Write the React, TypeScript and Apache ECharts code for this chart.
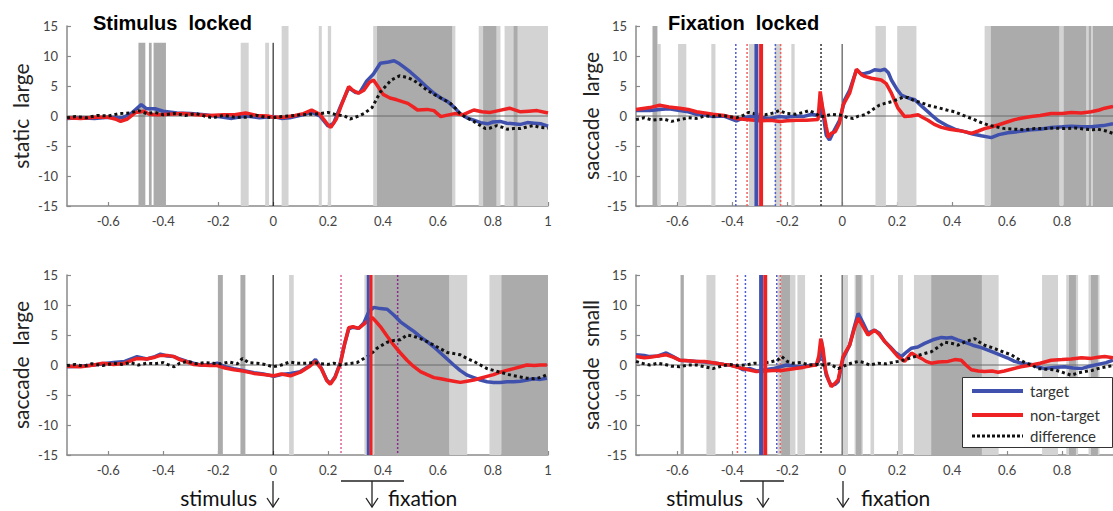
import React, { useEffect, useRef } from 'react';
import * as echarts from 'echarts';

// ---------- tick labels ----------
const xTicksLeft = [-0.6, -0.4, -0.2, 0, 0.2, 0.4, 0.6, 0.8, 1];
const xTicksRight = [-0.6, -0.4, -0.2, 0, 0.2, 0.4, 0.6, 0.8];

// ---------- names ----------
const panelTitles = ['Stimulus  locked', 'Fixation  locked'];
const axisNames = ['static  large', 'saccade  large', 'saccade  large', 'saccade  small'];
const legendNames = ['target', 'non-target', 'difference'];

// ---------- top-left: static large, stimulus locked ----------
const tlBlue = [[-0.75,-0.4],[-0.7,-0.3],[-0.65,-0.4],[-0.6,-0.2],[-0.55,-0.3],[-0.52,0.3],[-0.48,1.9],[-0.46,1.2],[-0.43,1.2],[-0.4,0.8],[-0.35,0.5],[-0.3,0.4],[-0.25,0.2],[-0.2,-0.1],[-0.15,-0.4],[-0.1,0],[-0.05,-0.3],[0,-0.1],[0.03,-0.4],[0.06,-0.3],[0.1,0.1],[0.14,0.6],[0.17,0],[0.2,-1.7],[0.22,-1.2],[0.245,1.6],[0.275,4.7],[0.3,3.9],[0.315,3.9],[0.34,5.8],[0.365,7.0],[0.39,8.8],[0.42,9.0],[0.44,9.2],[0.46,8.7],[0.475,8.2],[0.5,7.3],[0.525,6.3],[0.555,5.0],[0.585,3.8],[0.61,3.0],[0.635,2.4],[0.66,1.4],[0.68,0.4],[0.705,-0.3],[0.73,-0.7],[0.755,-1.1],[0.78,-1.3],[0.8,-1.0],[0.826,-0.9],[0.85,-1.2],[0.875,-1.3],[0.9,-1.4],[0.925,-1.1],[0.95,-1.2],[0.975,-1.3],[1.0,-1.7]];
const tlRed = [[-0.75,-0.3],[-0.7,-0.4],[-0.65,-0.2],[-0.6,-0.2],[-0.575,-0.5],[-0.555,-0.9],[-0.53,-0.5],[-0.5,0.6],[-0.47,0.8],[-0.45,0.3],[-0.42,0.2],[-0.38,0.3],[-0.33,0.4],[-0.28,0.2],[-0.23,0.1],[-0.18,0.2],[-0.14,0.2],[-0.1,0.5],[-0.06,0.1],[-0.02,0],[0,-0.2],[0.04,-0.2],[0.08,0.1],[0.11,0.4],[0.14,1.0],[0.17,0.3],[0.2,-1.5],[0.21,-1.9],[0.23,-0.5],[0.25,2.0],[0.275,4.9],[0.29,4.3],[0.31,3.8],[0.33,4.3],[0.35,5.6],[0.365,6.0],[0.38,5.0],[0.4,3.6],[0.425,3.0],[0.45,2.7],[0.49,2.1],[0.51,1.5],[0.525,1.0],[0.56,1.1],[0.585,0.9],[0.61,-0.1],[0.63,0.1],[0.66,0.4],[0.69,0.2],[0.71,0.6],[0.73,1.0],[0.76,0.7],[0.79,0.6],[0.82,0.9],[0.86,1.3],[0.9,0.7],[0.93,0.8],[0.96,0.9],[1.0,0.5]];
const tlDiff = [[-0.75,-0.3],[-0.72,-0.1],[-0.68,-0.3],[-0.64,0.1],[-0.6,0.0],[-0.56,0.4],[-0.52,0.5],[-0.49,0.9],[-0.46,0.4],[-0.43,0.6],[-0.4,0.2],[-0.36,0.4],[-0.32,0.1],[-0.28,0.4],[-0.25,0.0],[-0.22,-0.3],[-0.18,0.1],[-0.14,-0.2],[-0.1,-0.2],[-0.06,0.1],[-0.03,-0.2],[0,-0.3],[0.03,-0.1],[0.06,0.0],[0.1,0.2],[0.14,0.3],[0.17,0.4],[0.2,0.6],[0.23,0.2],[0.26,0.0],[0.28,-0.5],[0.3,-0.2],[0.33,0.4],[0.36,1.4],[0.39,4.0],[0.41,5.0],[0.43,6.0],[0.46,6.7],[0.49,6.4],[0.51,6.0],[0.535,5.2],[0.56,4.3],[0.585,3.6],[0.61,3.0],[0.645,2.1],[0.665,1.2],[0.68,0.4],[0.7,-0.2],[0.73,-0.9],[0.755,-1.6],[0.772,-2.1],[0.79,-2.0],[0.814,-1.6],[0.835,-1.9],[0.851,-2.2],[0.875,-2.1],[0.9,-2.1],[0.925,-1.8],[0.948,-1.6],[0.97,-1.9],[1.0,-2.0]];
const tlLightBands = [[0.031,0.056,15],[-0.118,-0.089,12.2],[-0.029,-0.015,12.2],[0.166,0.177,15],[0.199,0.211,15],[0.364,0.663,15],[0.748,0.827,15],[0.842,1.0,15]];
const tlDarkBands = [[-0.49,-0.465,12.2],[-0.452,-0.442,12.2],[-0.435,-0.39,12.2],[0.378,0.651,15],[0.764,0.812,15],[0.875,0.889,15]];
const tlAxisZero = [0];

// ---------- top-right: saccade large, fixation locked ----------
const trBlue = [[-0.75,0.9],[-0.7,0.9],[-0.664,1.1],[-0.63,1.2],[-0.591,0.9],[-0.56,0.7],[-0.53,0.3],[-0.5,0.2],[-0.47,-0.1],[-0.43,0.0],[-0.385,-0.8],[-0.36,-0.3],[-0.336,-0.1],[-0.3,-0.2],[-0.264,-0.4],[-0.23,-0.1],[-0.203,-0.2],[-0.17,0.0],[-0.143,-0.1],[-0.11,0.3],[-0.082,0.0],[-0.076,2.5],[-0.07,0.5],[-0.058,-3.2],[-0.046,-4.0],[-0.028,-2.3],[-0.009,-0.7],[0.009,2.7],[0.027,4.3],[0.052,7.7],[0.07,7.0],[0.082,7.1],[0.1,7.3],[0.118,7.7],[0.14,7.6],[0.155,7.8],[0.168,7.2],[0.179,6.0],[0.2,4.4],[0.215,3.5],[0.24,3.0],[0.264,2.7],[0.29,1.6],[0.324,0.2],[0.35,-0.8],[0.385,-1.7],[0.415,-2.3],[0.445,-2.6],[0.475,-3.0],[0.506,-3.3],[0.542,-3.6],[0.57,-3.1],[0.603,-2.8],[0.64,-2.6],[0.688,-2.3],[0.72,-2.2],[0.76,-1.9],[0.8,-1.8],[0.833,-1.7],[0.87,-1.8],[0.906,-1.8],[0.95,-1.6],[0.985,-1.3]];
const trRed = [[-0.75,1.1],[-0.7,1.4],[-0.664,1.8],[-0.63,1.5],[-0.591,1.3],[-0.56,1.1],[-0.53,0.7],[-0.5,0.5],[-0.47,0.3],[-0.43,0.1],[-0.385,-0.4],[-0.35,-0.6],[-0.3,-0.8],[-0.26,-0.7],[-0.227,-0.9],[-0.2,-0.8],[-0.166,-0.7],[-0.13,-0.7],[-0.088,-0.6],[-0.08,4.1],[-0.072,1.6],[-0.058,-1.8],[-0.05,-3.6],[-0.04,-2.9],[-0.025,-2.6],[-0.01,-1.2],[0.003,1.8],[0.027,3.8],[0.052,7.8],[0.07,6.9],[0.082,6.6],[0.106,6.3],[0.142,6.0],[0.16,5.4],[0.179,3.8],[0.203,1.3],[0.227,-0.1],[0.25,0.0],[0.276,0.2],[0.295,-0.3],[0.312,-0.7],[0.335,-1.4],[0.361,-1.9],[0.39,-2.2],[0.421,-2.4],[0.445,-2.6],[0.47,-2.9],[0.495,-2.5],[0.518,-2.1],[0.545,-1.8],[0.567,-1.5],[0.6,-1.0],[0.627,-0.6],[0.66,-0.3],[0.688,-0.1],[0.72,0.1],[0.76,0.4],[0.8,0.4],[0.833,0.6],[0.87,0.5],[0.906,0.7],[0.935,1.0],[0.955,1.3],[0.985,1.6]];
const trDiff = [[-0.75,-0.6],[-0.72,-0.3],[-0.69,-0.7],[-0.65,-0.5],[-0.62,-0.9],[-0.59,-0.6],[-0.56,-0.3],[-0.53,-0.4],[-0.5,0.0],[-0.47,-0.1],[-0.44,0.1],[-0.41,-0.1],[-0.385,-0.3],[-0.36,0.1],[-0.34,0.6],[-0.31,0.3],[-0.28,0.2],[-0.25,0.5],[-0.23,0.9],[-0.2,0.4],[-0.17,0.3],[-0.14,0.6],[-0.12,0.9],[-0.1,0.5],[-0.08,-0.1],[-0.06,0.0],[-0.04,0.3],[-0.02,0.2],[0,0.1],[0.02,-0.3],[0.04,-0.4],[0.06,0.0],[0.082,0.2],[0.1,0.7],[0.118,1.3],[0.135,1.8],[0.155,2.1],[0.18,2.4],[0.203,2.8],[0.22,3.1],[0.239,3.1],[0.26,2.6],[0.288,2.2],[0.318,1.7],[0.348,1.4],[0.38,1.0],[0.409,0.7],[0.44,0.1],[0.47,-0.4],[0.5,-1.0],[0.53,-1.5],[0.56,-1.8],[0.591,-2.1],[0.63,-2.2],[0.664,-2.3],[0.7,-2.1],[0.736,-2.1],[0.77,-2.0],[0.809,-2.1],[0.85,-2.0],[0.882,-2.2],[0.91,-2.3],[0.93,-2.2],[0.96,-2.5],[0.985,-2.9]];
const trLightBands = [[-0.672,-0.66,12],[-0.597,-0.567,12],[-0.476,-0.461,12],[-0.339,-0.318,12],[-0.245,-0.222,12],[-0.185,-0.173,12],[0.121,0.159,15],[0.2,0.27,15],[0.518,0.54,15],[0.79,0.805,15],[0.888,0.896,15],[0.905,0.912,15]];
const trDarkBands = [[-0.69,-0.672,15],[0.54,0.79,15],[0.805,0.888,15],[0.896,0.905,15],[0.912,1.0,15]];
const trAxisZero = [0];
const trBlueDotted = [-0.387, -0.243];
const trRedDotted = [-0.346, -0.224];
const trDiffDotted = [-0.077];
const trBlueSolid = [-0.312];
const trRedSolid = [-0.295];

// ---------- bottom-left: saccade large, stimulus locked ----------
const blBlue = [[-0.75,-0.3],[-0.7,-0.2],[-0.652,0.0],[-0.62,0.2],[-0.58,0.4],[-0.54,0.6],[-0.495,1.4],[-0.46,1.0],[-0.43,1.4],[-0.41,1.8],[-0.385,1.5],[-0.361,1.4],[-0.34,1.0],[-0.313,0.6],[-0.29,0.3],[-0.264,0.0],[-0.23,0.0],[-0.204,0.3],[-0.175,-0.3],[-0.143,-0.6],[-0.11,-0.9],[-0.07,-1.3],[-0.035,-1.5],[0.003,-1.9],[0.03,-1.6],[0.063,-1.4],[0.099,-1.1],[0.13,-0.2],[0.154,0.9],[0.175,-0.5],[0.195,-2.5],[0.208,-3.1],[0.225,-2.0],[0.245,0.5],[0.26,3.5],[0.275,6.0],[0.29,6.3],[0.311,6.1],[0.33,7.0],[0.348,8.9],[0.366,9.6],[0.39,9.4],[0.415,9.3],[0.44,8.3],[0.463,7.2],[0.49,6.3],[0.512,5.6],[0.536,4.7],[0.56,3.9],[0.585,3.0],[0.609,2.0],[0.633,1.0],[0.657,0.0],[0.68,-0.9],[0.706,-1.7],[0.73,-2.1],[0.754,-2.5],[0.778,-2.8],[0.802,-2.9],[0.826,-2.9],[0.851,-2.8],[0.875,-2.8],[0.899,-2.7],[0.925,-2.5],[0.948,-2.3],[0.972,-2.4],[0.996,-2.2]];
const blRed = [[-0.75,-0.2],[-0.7,-0.3],[-0.652,0.0],[-0.62,0.3],[-0.58,0.1],[-0.54,0.3],[-0.495,1.1],[-0.46,1.0],[-0.43,1.3],[-0.41,1.6],[-0.385,1.6],[-0.361,1.4],[-0.34,0.9],[-0.313,0.5],[-0.29,0.1],[-0.264,0.0],[-0.23,-0.1],[-0.204,-0.1],[-0.175,-0.5],[-0.143,-0.8],[-0.11,-1.0],[-0.07,-1.4],[-0.035,-1.6],[0.003,-1.8],[0.03,-1.5],[0.063,-1.8],[0.099,-1.2],[0.13,-0.3],[0.154,0.6],[0.175,-0.6],[0.195,-2.6],[0.208,-3.2],[0.225,-2.1],[0.245,0.3],[0.26,3.5],[0.275,6.2],[0.29,6.4],[0.311,6.1],[0.33,6.8],[0.348,7.5],[0.36,7.9],[0.375,7.2],[0.39,6.4],[0.415,4.8],[0.439,3.3],[0.463,2.0],[0.487,0.8],[0.51,-0.2],[0.536,-1.1],[0.56,-1.6],[0.585,-2.1],[0.61,-2.3],[0.633,-2.5],[0.657,-2.7],[0.681,-2.9],[0.705,-2.7],[0.73,-2.5],[0.754,-2.2],[0.778,-1.9],[0.802,-1.6],[0.826,-1.2],[0.85,-0.9],[0.875,-0.6],[0.9,-0.3],[0.923,0.0],[0.95,-0.1],[0.972,0.0],[0.996,0.0]];
const blDiff = [[-0.75,-0.1],[-0.72,0.1],[-0.69,-0.2],[-0.66,0.2],[-0.62,-0.1],[-0.58,0.3],[-0.55,0.1],[-0.52,0.4],[-0.49,0.0],[-0.46,0.3],[-0.43,0.2],[-0.4,0.4],[-0.385,0.1],[-0.36,-0.3],[-0.34,0.3],[-0.31,0.6],[-0.28,0.2],[-0.25,0.4],[-0.22,0.3],[-0.19,0.2],[-0.16,0.5],[-0.13,0.2],[-0.112,1.1],[-0.09,0.4],[-0.06,0.3],[-0.03,0.1],[0,-0.3],[0.03,0.0],[0.06,0.5],[0.09,0.3],[0.12,0.3],[0.15,0.4],[0.172,0.2],[0.2,0.1],[0.22,0.3],[0.245,0.0],[0.27,0.2],[0.305,0.4],[0.342,1.4],[0.36,2.0],[0.378,2.8],[0.4,3.4],[0.415,3.8],[0.44,4.1],[0.463,4.2],[0.487,5.0],[0.51,4.8],[0.536,4.4],[0.56,3.9],[0.585,3.3],[0.609,2.7],[0.633,2.1],[0.657,1.9],[0.681,1.7],[0.705,1.1],[0.73,0.6],[0.754,0.0],[0.778,-0.6],[0.802,-0.9],[0.826,-1.2],[0.85,-1.5],[0.875,-1.8],[0.9,-2.0],[0.923,-2.2],[0.948,-2.3],[0.972,-2.1],[0.996,-1.6]];
const blLightBands = [[0.058,0.075,15],[0.332,0.368,15],[0.641,0.706,15],[0.787,0.83,15]];
const blDarkBands = [[-0.201,-0.183,15],[-0.119,-0.101,15],[0.368,0.641,15],[0.83,1.0,15]];
const blAxisZero = [0];
const blPinkDotted = [0.247];
const blPurpleDotted = [0.453];
const blBlueSolid = [0.346];
const blRedSolid = [0.356];

// ---------- bottom-right: saccade small, fixation locked ----------
const brBlue = [[-0.75,1.7],[-0.72,1.6],[-0.7,1.4],[-0.67,1.5],[-0.64,2.0],[-0.615,1.4],[-0.591,0.8],[-0.56,0.7],[-0.53,0.6],[-0.5,0.5],[-0.458,0.3],[-0.43,0.1],[-0.409,0.0],[-0.38,-0.3],[-0.361,-0.8],[-0.335,-0.6],[-0.312,-1.0],[-0.28,-0.8],[-0.252,-0.6],[-0.225,-0.3],[-0.203,0.0],[-0.17,-0.2],[-0.143,-0.3],[-0.11,0.0],[-0.094,0.0],[-0.082,1.0],[-0.076,4.2],[-0.068,1.0],[-0.058,-1.7],[-0.04,-3.4],[-0.025,-3.2],[-0.015,-2.8],[0.003,1.1],[0.027,3.3],[0.045,6.5],[0.058,8.6],[0.076,7.0],[0.094,5.3],[0.118,5.8],[0.135,5.3],[0.155,3.9],[0.175,3.0],[0.191,2.2],[0.215,1.4],[0.235,2.2],[0.252,2.8],[0.275,3.0],[0.3,3.6],[0.33,4.2],[0.361,4.6],[0.38,4.5],[0.397,4.6],[0.42,4.2],[0.445,3.8],[0.475,3.3],[0.506,2.9],[0.535,2.4],[0.567,1.8],[0.6,1.2],[0.627,0.6],[0.66,0.2],[0.688,0.1],[0.71,-0.3],[0.736,-0.6],[0.77,-0.4],[0.809,-0.3],[0.84,-0.5],[0.87,-0.6],[0.9,-0.2],[0.93,0.1],[0.96,0.4],[0.985,0.8]];
const brRed = [[-0.75,1.4],[-0.72,1.2],[-0.7,1.3],[-0.67,1.5],[-0.64,1.7],[-0.615,1.3],[-0.591,0.8],[-0.56,0.7],[-0.53,0.6],[-0.5,0.6],[-0.458,0.3],[-0.43,0.1],[-0.409,0.0],[-0.38,-0.4],[-0.35,-0.7],[-0.312,-1.1],[-0.28,-1.0],[-0.252,-0.9],[-0.22,-0.9],[-0.203,-0.8],[-0.17,-0.6],[-0.143,-0.4],[-0.11,-0.1],[-0.094,0.0],[-0.085,1.5],[-0.078,4.4],[-0.07,2.8],[-0.06,-1.0],[-0.05,-2.5],[-0.04,-3.6],[-0.025,-3.0],[-0.015,-2.5],[0.003,1.4],[0.027,3.3],[0.045,6.2],[0.058,7.8],[0.076,6.4],[0.094,5.0],[0.118,5.8],[0.135,5.1],[0.155,3.9],[0.175,2.9],[0.203,1.4],[0.227,0.6],[0.252,2.0],[0.27,1.5],[0.288,1.1],[0.305,0.6],[0.324,0.3],[0.35,0.5],[0.385,0.6],[0.41,0.9],[0.433,0.8],[0.45,0.0],[0.47,-0.8],[0.495,-1.0],[0.518,-1.1],[0.545,-1.0],[0.567,-1.2],[0.59,-1.0],[0.615,-0.7],[0.65,-0.3],[0.688,0.0],[0.72,0.3],[0.76,0.8],[0.8,0.9],[0.833,1.0],[0.87,1.2],[0.906,1.1],[0.93,1.3],[0.955,1.4],[0.985,1.2]];
const brDiff = [[-0.75,0.6],[-0.73,0.3],[-0.7,0.0],[-0.67,0.3],[-0.645,0.1],[-0.62,-0.2],[-0.591,-0.3],[-0.56,0.0],[-0.53,0.0],[-0.5,-0.3],[-0.47,-0.6],[-0.44,-0.2],[-0.41,0.1],[-0.38,-0.1],[-0.35,0.0],[-0.32,0.3],[-0.29,0.3],[-0.26,0.5],[-0.235,0.8],[-0.22,1.4],[-0.2,0.6],[-0.18,0.3],[-0.15,0.4],[-0.12,0.0],[-0.094,0.1],[-0.07,0.0],[-0.046,0.2],[-0.015,-0.6],[0.0,-0.3],[0.02,0.1],[0.04,0.4],[0.06,0.6],[0.08,0.4],[0.1,0.0],[0.13,0.3],[0.16,0.2],[0.18,0.4],[0.203,0.6],[0.23,0.9],[0.264,1.4],[0.29,1.8],[0.324,2.2],[0.35,3.0],[0.373,3.8],[0.4,3.6],[0.421,3.3],[0.45,3.9],[0.482,4.4],[0.5,3.8],[0.518,3.3],[0.545,2.9],[0.567,2.5],[0.59,2.1],[0.615,1.7],[0.64,1.0],[0.664,0.4],[0.69,0.0],[0.712,-0.6],[0.74,-0.7],[0.773,-0.8],[0.8,-1.2],[0.833,-1.7],[0.86,-1.3],[0.882,-1.1],[0.91,-0.9],[0.93,-0.6],[0.96,-0.3],[0.985,-0.1]];
const brLightBands = [[-0.494,-0.461,15],[-0.235,-0.17,15],[-0.163,-0.135,15],[0.0,0.021,15],[0.045,0.075,15],[0.103,0.116,15],[0.203,0.221,15],[0.261,0.569,15],[0.727,0.785,15],[0.815,0.858,15],[0.896,0.936,15]];
const brDarkBands = [[-0.588,-0.576,15],[-0.222,-0.19,15],[0.05,0.07,15],[0.324,0.508,15],[0.825,0.85,15],[0.905,0.93,15]];
const brAxisZero = [0];
const brBlueDotted = [-0.352, -0.238];
const brRedDotted = [-0.381, -0.225];
const brDiffDotted = [-0.077];
const brBlueSolid = [-0.295];
const brRedSolid = [-0.28];

// ---------- styles ----------
const BLUE = '#4050ad';
const RED = '#ee2222';
const BLACK = '#111111';
const LIGHT = '#d3d3d3';
const DARK = '#ababab';
const AXIS = '#8a8a8a';
const LABEL = '#444444';
const FONT = 'Lato, "Open Sans", sans-serif';

const grids = [
  { left: 67, top: 26, width: 481, height: 180 },
  { left: 636, top: 26, width: 477, height: 180 },
  { left: 67, top: 275, width: 481, height: 180 },
  { left: 636, top: 275, width: 477, height: 180 },
];
const xMaxes = [1, 0.985, 1, 0.985];
const tickSets = [xTicksLeft, xTicksRight, xTicksLeft, xTicksRight];

function bandSeries(i: number, data: number[][], color: string, z: number) {
  return {
    type: 'custom', xAxisIndex: i, yAxisIndex: i, z, silent: true, data,
    encode: { x: [0, 1], y: 2 },
    renderItem: (params: any, api: any) => {
      const a = api.coord([api.value(0), api.value(2)]);
      const b = api.coord([api.value(1), -15]);
      return { type: 'rect', shape: { x: a[0], y: a[1], width: b[0] - a[0], height: b[1] - a[1] }, style: { fill: color } };
    },
  };
}

function vlineSeries(i: number, values: number[], top: number, color: string, width: number, dashed: boolean, z: number) {
  return {
    type: 'custom', xAxisIndex: i, yAxisIndex: i, z, silent: true,
    data: values.map((v) => [v, top]),
    encode: { x: 0, y: 1 },
    renderItem: (params: any, api: any) => {
      const a = api.coord([api.value(0), api.value(1)]);
      const b = api.coord([api.value(0), -15]);
      return {
        type: 'line',
        shape: { x1: a[0], y1: a[1], x2: b[0], y2: b[1] },
        style: { stroke: color, lineWidth: width, lineDash: dashed ? [2, 2] : null },
      };
    },
  };
}

function zeroSeries(i: number) {
  return {
    type: 'custom', xAxisIndex: i, yAxisIndex: i, z: 3, silent: true,
    data: [[0, 0]],
    encode: { x: 0, y: 1 },
    renderItem: (params: any, api: any) => {
      const cs = params.coordSys;
      const y = api.coord([0, api.value(1)])[1];
      return { type: 'line', shape: { x1: cs.x, y1: y, x2: cs.x + cs.width, y2: y }, style: { stroke: '#6a6a6a', lineWidth: 1 } };
    },
  };
}

function lineSeries(i: number, name: string, data: number[][], color: string, dotted: boolean, z: number) {
  return {
    type: 'line', name, xAxisIndex: i, yAxisIndex: i, z, data,
    showSymbol: false, symbol: 'none', silent: true,
    lineStyle: dotted
      ? { color, width: 3, type: [3, 3], cap: 'butt' }
      : { color, width: 3.5 },
  };
}

function buildOption() {
  const series: any[] = [];
  const lineSets = [
    [tlBlue, tlRed, tlDiff],
    [trBlue, trRed, trDiff],
    [blBlue, blRed, blDiff],
    [brBlue, brRed, brDiff],
  ];
  const bandSets = [
    [tlLightBands, tlDarkBands],
    [trLightBands, trDarkBands],
    [blLightBands, blDarkBands],
    [brLightBands, brDarkBands],
  ];
  for (let i = 0; i < 4; i++) {
    series.push(bandSeries(i, bandSets[i][0], LIGHT, 1));
    series.push(bandSeries(i, bandSets[i][1], DARK, 2));
    series.push(zeroSeries(i));
  }
  // axis-zero verticals
  series.push(vlineSeries(0, tlAxisZero, 12.2, '#000000', 1, false, 4));
  series.push(vlineSeries(1, trAxisZero, 12, '#777777', 1.5, false, 4));
  series.push(vlineSeries(2, blAxisZero, 15, '#000000', 1, false, 4));
  series.push(vlineSeries(3, brAxisZero, 15, '#777777', 1.5, false, 4));
  // dotted event markers
  series.push(vlineSeries(1, trBlueDotted, 12, '#5060c8', 1.5, true, 4));
  series.push(vlineSeries(1, trRedDotted, 12, '#f06060', 1.5, true, 4));
  series.push(vlineSeries(1, trDiffDotted, 12, '#333333', 1.5, true, 4));
  series.push(vlineSeries(2, blPinkDotted, 15, '#e0609a', 1.5, true, 4));
  series.push(vlineSeries(2, blPurpleDotted, 15, '#8a2a8a', 1.5, true, 4));
  series.push(vlineSeries(3, brBlueDotted, 15, '#5060c8', 1.5, true, 4));
  series.push(vlineSeries(3, brRedDotted, 15, '#f06060', 1.5, true, 4));
  series.push(vlineSeries(3, brDiffDotted, 15, '#333333', 1.5, true, 4));
  // data lines
  for (let i = 0; i < 4; i++) {
    series.push(lineSeries(i, legendNames[0], lineSets[i][0], BLUE, false, 5));
    series.push(lineSeries(i, legendNames[1], lineSets[i][1], RED, false, 6));
    series.push(lineSeries(i, legendNames[2], lineSets[i][2], BLACK, true, 7));
  }
  // solid mean markers
  series.push(vlineSeries(1, trBlueSolid, 12, BLUE, 4, false, 8));
  series.push(vlineSeries(1, trRedSolid, 12, RED, 4, false, 8));
  series.push(vlineSeries(2, blBlueSolid, 15, BLUE, 3, false, 8));
  series.push(vlineSeries(2, blRedSolid, 15, RED, 3, false, 8));
  series.push(vlineSeries(3, brBlueSolid, 15, BLUE, 4, false, 8));
  series.push(vlineSeries(3, brRedSolid, 15, RED, 4, false, 8));

  const xAxis = grids.map((g, i) => ({
    type: 'value', gridIndex: i, min: -0.75, max: xMaxes[i],
    axisLine: { show: true, onZero: false, lineStyle: { color: AXIS, width: 1.5 } },
    axisTick: { show: true, inside: true, length: 4, customValues: tickSets[i], lineStyle: { color: AXIS, width: 1.2 } },
    axisLabel: {
      customValues: tickSets[i], color: LABEL, fontSize: 13, fontFamily: FONT, margin: 8,
      formatter: (v: number) => String(Math.round(v * 10) / 10),
    },
    splitLine: { show: false },
  }));
  const yAxis = grids.map((g, i) => ({
    type: 'value', gridIndex: i, min: -15, max: 15, interval: 5,
    axisLine: { show: true, onZero: false, lineStyle: { color: AXIS, width: 1.5 } },
    axisTick: { show: true, inside: true, length: 4, lineStyle: { color: AXIS, width: 1.2 } },
    axisLabel: { color: LABEL, fontSize: 13, fontFamily: FONT, margin: 9 },
    splitLine: { show: false },
  }));

  const graphic: any[] = [];
  const titleFont = 'bold 20px "Liberation Sans", Arial, sans-serif';
  graphic.push({ type: 'text', x: 93, y: 23, z: 100, style: { text: panelTitles[0], font: titleFont, fill: '#000', verticalAlign: 'middle' } });
  graphic.push({ type: 'text', x: 668, y: 23, z: 100, style: { text: panelTitles[1], font: titleFont, fill: '#000', verticalAlign: 'middle' } });
  const namePos = [[20, 116], [590, 116], [20, 365], [590, 365]];
  namePos.forEach((p, i) => {
    graphic.push({ type: 'text', x: p[0], y: p[1], rotation: Math.PI / 2, z: 100, style: { text: axisNames[i], fontSize: 21, fontFamily: FONT, fill: '#222', align: 'center', verticalAlign: 'middle' } });
  });

  // legend box
  graphic.push({ type: 'rect', z: 100, shape: { x: 962.5, y: 377.5, width: 150, height: 70 }, style: { fill: '#fff', stroke: '#333', lineWidth: 1 } });
  const legY = [391, 415, 436];
  const legColors = [BLUE, RED, BLACK];
  legY.forEach((y, k) => {
    graphic.push({ type: 'line', z: 101, shape: { x1: 972, y1: y, x2: 1023, y2: y }, style: { stroke: legColors[k], lineWidth: k === 2 ? 3 : 4, lineDash: k === 2 ? [3, 2] : null } });
    graphic.push({ type: 'text', z: 101, x: 1030, y: y, style: { text: legendNames[k], fontSize: 15, fontFamily: FONT, fill: '#333', verticalAlign: 'middle' } });
  });

  // bottom annotations
  const ann = (x: number) => [
    { type: 'line', z: 100, shape: { x1: x, y1: 481, x2: x, y2: 507 }, style: { stroke: '#222', lineWidth: 1.3 } },
    { type: 'polyline', z: 100, shape: { points: [[x - 6, 498], [x, 507], [x + 6, 498]] }, style: { stroke: '#222', lineWidth: 1.3, fill: null } },
  ];
  graphic.push(...ann(273), ...ann(372), ...ann(763), ...ann(843));
  graphic.push({ type: 'line', z: 100, shape: { x1: 341, y1: 481, x2: 404, y2: 481 }, style: { stroke: '#222', lineWidth: 1.3 } });
  graphic.push({ type: 'line', z: 100, shape: { x1: 740, y1: 481, x2: 784, y2: 481 }, style: { stroke: '#222', lineWidth: 1.3 } });
  const annFont = { fontSize: 21, fontFamily: FONT, fill: '#111', verticalAlign: 'middle' };
  graphic.push({ type: 'text', z: 100, x: 257, y: 497, style: { text: 'stimulus', align: 'right', ...annFont } });
  graphic.push({ type: 'text', z: 100, x: 388, y: 497, style: { text: 'fixation', align: 'left', ...annFont } });
  graphic.push({ type: 'text', z: 100, x: 743, y: 497, style: { text: 'stimulus', align: 'right', ...annFont } });
  graphic.push({ type: 'text', z: 100, x: 861, y: 497, style: { text: 'fixation', align: 'left', ...annFont } });

  return {
    animation: false,
    backgroundColor: '#ffffff',
    grid: grids,
    xAxis,
    yAxis,
    series,
    graphic,
  };
}

export default function App() {
  const ref = useRef<HTMLDivElement>(null);
  useEffect(() => {
    if (!ref.current) return;
    const chart = echarts.init(ref.current, null, { renderer: 'svg' });
    chart.setOption(buildOption() as any);
    return () => chart.dispose();
  }, []);
  return <div ref={ref} style={{ position: 'absolute', left: 0, top: 0, width: 1113, height: 511 }} />;
}
